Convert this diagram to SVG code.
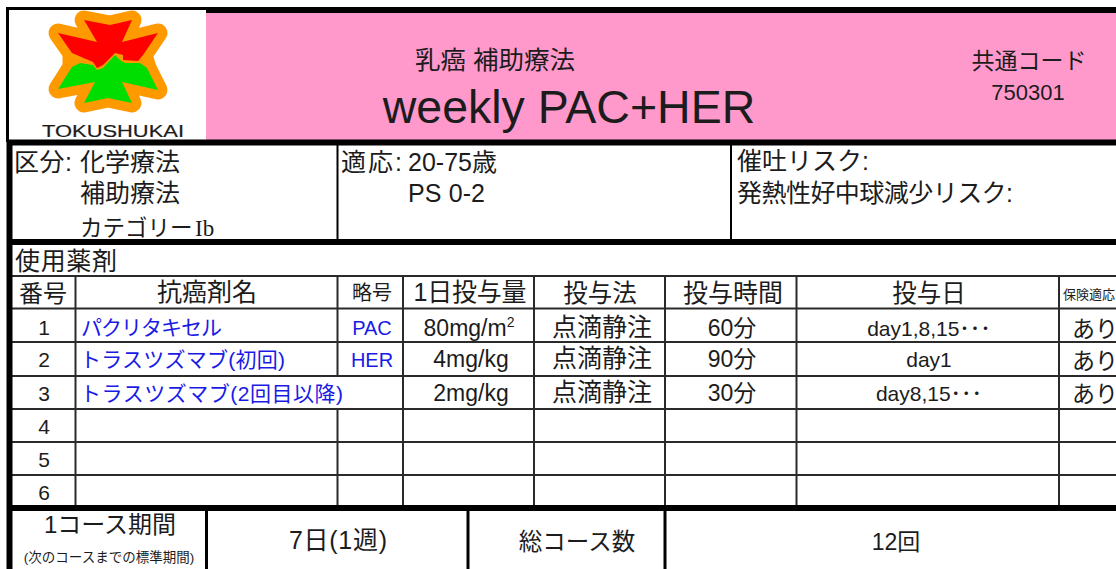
<svg xmlns="http://www.w3.org/2000/svg" width="1116" height="569" viewBox="0 0 1116 569">
<style>
text{font-family:"Liberation Sans","Noto Sans CJK JP",sans-serif;fill:#1c1c1c}
.c{text-anchor:middle}
.b{fill:#1a1ae6}
.h{font-size:25px}
.r{font-size:21px}
.d{font-size:23px}
.k{stroke:#000;fill:none}
.t{stroke:#2a2a2a;stroke-width:2;fill:none}
</style>
<rect width="1116" height="569" fill="#fff"/>
<g id="header">
<rect x="206" y="13" width="910" height="127" fill="#ff99cc"/>
<text class="c" x="495" y="69" font-size="25.500">乳癌 補助療法</text>
<text class="c" x="569" y="123" font-size="46.500">weekly PAC+HER</text>
<text class="c" x="1029" y="69" font-size="23">共通コード</text>
<text class="c" x="1028" y="100" font-size="22">750301</text>
</g>
<g id="logo">
<path d="M84 20L110 25L132 20L122 42L158 33L143 55L147 68L158 90L122 82L132 103L108 98L84 103L95 82L58 89L72 67L72 53L58 33L97 42Z" fill="#ff9900" stroke="#ff9900" stroke-width="19" stroke-linejoin="round"/>
<path d="M84 20L110 25L132 20L122 42L158 33L143 55L138 61L123 60L123 55L115 53L103 65L97 68L93 62L72 53L58 33L97 42Z" fill="#ff0000"/>
<path d="M115 55L120 60L125 63L140 63L147 68L158 90L122 82L132 103L108 98L84 103L95 82L58 89L72 67L80 63L93 65L97 70L103 68Z" fill="#00dd00"/>
<text x="42" y="137" font-size="17" textLength="142" lengthAdjust="spacingAndGlyphs" stroke="#1c1c1c" stroke-width="0.200">TOKUSHUKAI</text>
</g>
<g id="class-section">
<text x="14" y="171" class="h" textLength="58">区分:</text>
<text x="80" y="171" class="h">化学療法</text>
<text x="80" y="202" class="h">補助療法</text>
<text x="80" y="236" font-size="22.500">カテゴリー<tspan x="195" font-family="'Liberation Serif',serif" font-size="23">Ib</tspan></text>
<text x="341" y="171" class="h" textLength="61">適応:</text>
<text x="408" y="171" class="h" textLength="89">20-75歳</text>
<text x="408" y="202" class="h" textLength="77">PS 0-2</text>
<text x="737" y="170" class="h">催吐リスク:</text>
<text x="737" y="202" class="h" textLength="276">発熱性好中球減少リスク:</text>
</g>
<g id="drug-table">
<text x="15" y="270" class="h" textLength="102">使用薬剤</text>
<g class="c">
<text x="43" y="302" font-size="24">番号</text><text x="207" y="301" class="h">抗癌剤名</text><text x="372" y="300" font-size="20">略号</text><text x="470" y="301" class="h" textLength="113">1日投与量</text><text x="600" y="302" font-size="24.500">投与法</text><text x="733" y="302" class="h">投与時間</text><text x="929" y="302" font-size="24.500">投与日</text>
<text x="44" y="335" class="r">1</text><text x="44" y="367" class="r">2</text><text x="44" y="401" class="r">3</text><text x="44" y="434" class="r">4</text><text x="44" y="467" class="r">5</text><text x="44" y="500" class="r">6</text>
<text x="372" y="335" font-size="20" class="b">PAC</text><text x="372" y="367" font-size="20" class="b">HER</text>
<text x="469" y="336" class="d">80mg/m<tspan font-size="14" dy="-9">2</tspan></text><text x="471" y="367" class="d">4mg/kg</text><text x="471" y="401" class="d">2mg/kg</text>
<text x="602" y="336" class="h">点滴静注</text><text x="602" y="367" class="h">点滴静注</text><text x="602" y="401" class="h">点滴静注</text>
<text x="732" y="336" class="d">60分</text><text x="732" y="367" class="d">90分</text><text x="732" y="401" class="d">30分</text>
<text x="929" y="336" class="r">day1,8,15･･･</text><text x="929" y="367" class="r">day1</text><text x="929" y="401" class="r">day8,15･･･</text>
</g>
<text x="1063" y="299" font-size="13">保険適応</text>
<text x="1072" y="337" class="d">あり</text><text x="1072" y="369" class="d">あり</text><text x="1072" y="402" class="d">あり</text>
<text x="81" y="335" class="r b" textLength="141">パクリタキセル</text>
<text x="80" y="367" class="r b" textLength="205">トラスツズマブ(初回)</text>
<text x="80" y="401" class="r b" textLength="263">トラスツズマブ(2回目以降)</text>
</g>
<g id="course-row">
<text x="110" y="533" class="c" font-size="24">1コース期間</text>
<text class="c" x="109" y="562" font-size="13.500">(次のコースまでの標準期間)</text>
<text class="c h" x="338" y="549" textLength="98">7日(1週)</text>
<text class="c" x="577" y="550" font-size="23.500">総コース数</text>
<text class="c" x="896" y="550" font-size="23">12回</text>
</g>
<g id="connectors">
<path class="t" d="M12 276H1116M12 308.500H1116M12 342H1116M12 376H1116M12 409H1116M12 442H1116M12 475H1116"/>
<path class="t" d="M75.500 276V505M337.500 276V376M337.500 409V505M403 276V505M534 276V505M665 276V505M796.500 276V505M1059 276V505"/>
<path class="k" stroke-width="2" d="M337.500 142V240M731 142V240"/>
<path class="k" stroke-width="3" d="M7.500 7V142M7 8.500H207"/>
<path class="k" stroke-width="6" d="M206 10H1116M9.500 142V569"/>
<path class="k" stroke-width="6" d="M7 142.500H1116M7 242H1116M7 508H1116"/>
<path class="k" stroke-width="3" d="M206.500 510V569M468 510V569M665 510V569"/>
</g>
</svg>
